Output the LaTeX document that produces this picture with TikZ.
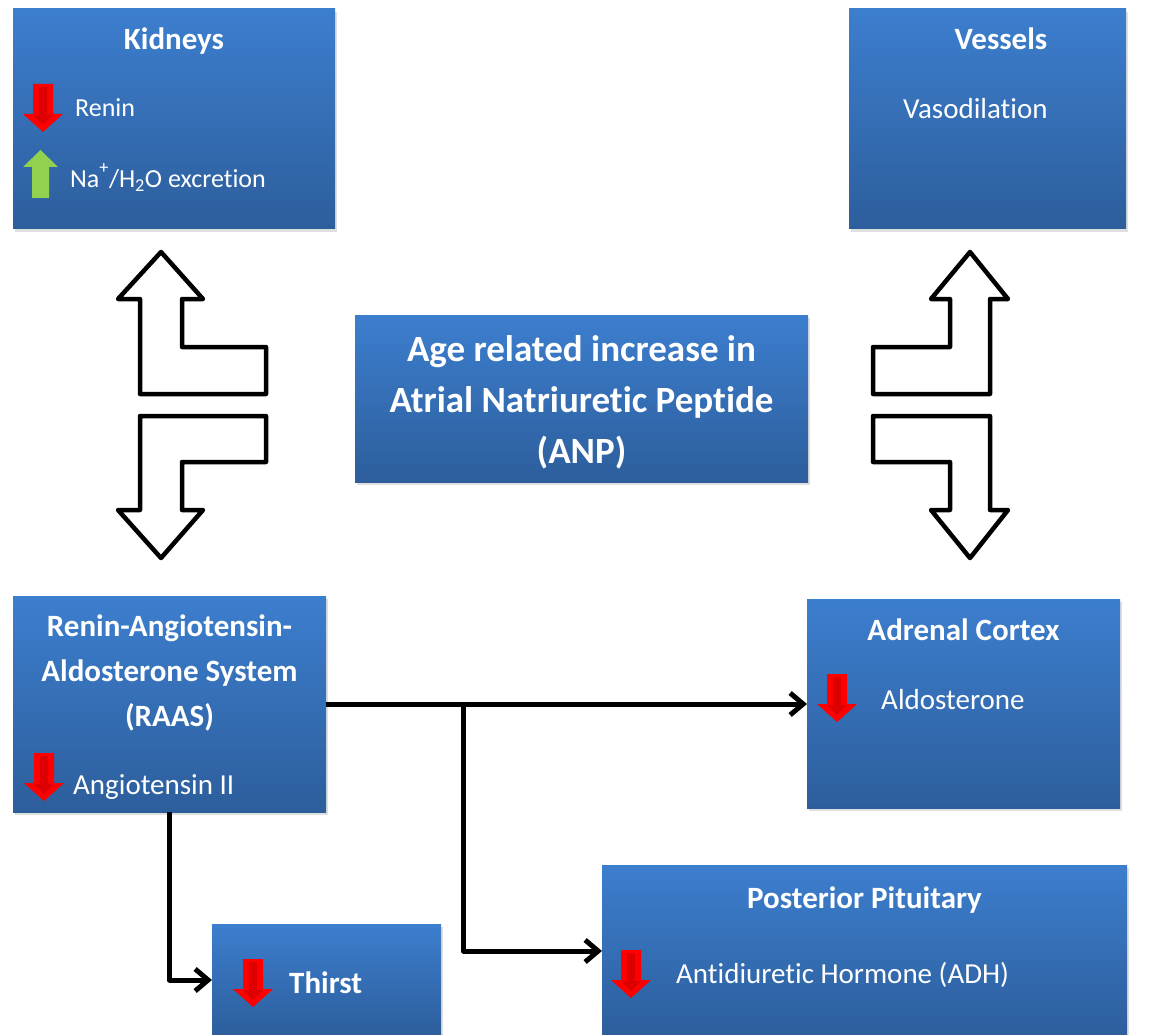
\documentclass[tikz,border=0pt]{standalone}
\usepackage{fontspec}
\setmainfont{Carlito}[Ligatures=NoCommon]
\usetikzlibrary{arrows.meta,shadows}
\definecolor{boxtop}{RGB}{60,126,206}
\definecolor{boxbot}{RGB}{45,94,156}
\definecolor{arrred}{RGB}{255,0,0}
\definecolor{arrdark}{RGB}{222,0,0}
\definecolor{arrgreen}{RGB}{146,208,80}
\begin{document}
\begin{tikzpicture}[x=1pt,y=-1pt,
 box/.style={rectangle, inner sep=0pt, outer sep=0pt, top color=boxtop, bottom color=boxbot,
   drop shadow={shadow xshift=2pt, shadow yshift=-3pt, opacity=0.25}},
 hd/.style={text=white, font=\fontsize{31}{38}\selectfont\bfseries, inner sep=0pt, anchor=base, align=center},
 bd/.style={text=white, font=\fontsize{29}{35}\selectfont, inner sep=0pt, anchor=base west},
 bds/.style={text=white, font=\fontsize{26}{30}\selectfont, inner sep=0pt, anchor=base west},
 blk/.style={draw=black, fill=white, line width=4.5pt, line join=round},
 conn/.style={draw=black, line width=5pt, line join=round, -{Straight Barb[length=13pt,width=22pt,line width=5pt]}},
 downarr/.pic={
   \fill[arrred] (10,0) -- (30,0) -- (30,30) -- (40,30) -- (20,48) -- (0,30) -- (10,30) -- cycle;
   \fill[arrdark] (16,3) -- (24,3) -- (24,31) -- (30,31) -- (20,41) -- (10,31) -- (16,31) -- cycle;
 },
 uparr/.pic={
   \fill[arrgreen] (17.5,0) -- (35,17) -- (26,17) -- (26,48) -- (9,48) -- (9,17) -- (0,17) -- cycle;
 }]
\fill[white] (0,0) rectangle (1159,1035);
\useasboundingbox (0,0) rectangle (1159,1035);

% boxes
\node[box, anchor=north west, minimum width=322pt, minimum height=220pt] (kid) at (13,9) {};
\node[box, anchor=north west, minimum width=277pt, minimum height=220pt] (ves) at (849,9) {};
\node[box, anchor=north west, minimum width=453pt, minimum height=167pt] (anp) at (355,315) {};
\node[box, anchor=north west, minimum width=313pt, minimum height=216pt] (raas) at (13,596) {};
\node[box, anchor=north west, minimum width=313pt, minimum height=209pt] (adr) at (807,599) {};
\node[box, anchor=north west, minimum width=229pt, minimum height=112pt] (thirst) at (212,924) {};
\node[box, anchor=north west, minimum width=525pt, minimum height=172pt] (pp) at (602,865) {};

% texts
\node[hd] (kidT) at (174,50) {Kidneys};
\pic at (23,84) {downarr};
\node[bds] (kidR) at (75,117) {Renin};
\pic at (23,150) {uparr};
\node[bds] (kidN) at (70,188) {Na\raisebox{5pt}{\textsuperscript{+}}/H\textsubscript{2}O excretion};

\node[hd] (vesT) at (1001,50) {Vessels};
\node[bd] (vesV) at (903,119) {Vasodilation};

\node[hd, font=\fontsize{37}{51}\selectfont\bfseries] (anpT) at (581.5,463)
  {Age related increase in\\Atrial Natriuretic Peptide\\(ANP)};

\node[hd, font=\fontsize{31}{45}\selectfont\bfseries] (raasT) at (169.5,726)
  {Renin-Angiotensin-\\Aldosterone System\\(RAAS)};
\pic at (24,753) {downarr};
\node[bd] (raasA) at (73,794) {Angiotensin II};

\node[hd] (adrT) at (963.5,640) {Adrenal Cortex};
\pic at (817,674) {downarr};
\node[bd] (adrA) at (881,709) {Aldosterone};

\pic at (233,959) {downarr};
\node[hd, anchor=base west] (thT) at (289,993) {Thirst};

\node[hd] (ppT) at (864.5,908) {Posterior Pituitary};
\pic at (611,950) {downarr};
\node[bd] (ppA) at (676,983) {Antidiuretic Hormone (ADH)};

% block arrows left
\draw[blk] (161,252) -- (203,299) -- (182,299) -- (182,347) -- (266,347) -- (266,394)
  -- (140,394) -- (140,299) -- (118,299) -- cycle;
\draw[blk] (140,416) -- (266,416) -- (266,462) -- (182,462) -- (182,510) -- (203,510)
  -- (161,558) -- (118,510) -- (140,510) -- cycle;
% block arrows right
\draw[blk] (970,252) -- (1008,299) -- (990,299) -- (990,394) -- (873,394) -- (873,347)
  -- (950,347) -- (950,299) -- (931,299) -- cycle;
\draw[blk] (873,416) -- (990,416) -- (990,510) -- (1008,510) -- (970,558) -- (931,510)
  -- (950,510) -- (950,462) -- (873,462) -- cycle;

% connectors
\draw[conn] (raas.east) -- (raas.east -| adr.west);
\path (raas.east) ++(137.5,0) coordinate (br);
\draw[conn] (br) |- (pp.west);
\draw[conn] (raas.south) |- (thirst.west);
\end{tikzpicture}
\end{document}
